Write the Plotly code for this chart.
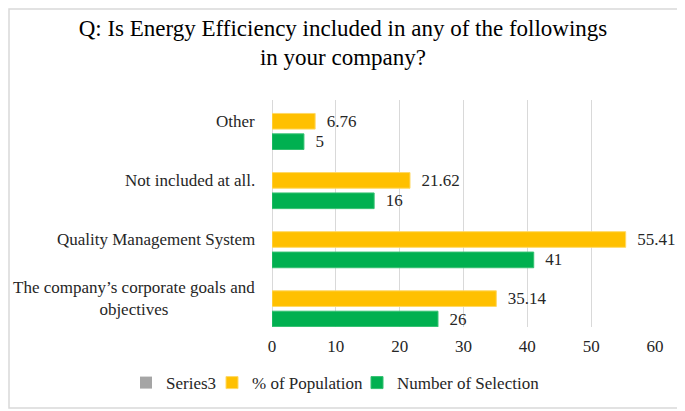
import plotly.graph_objects as go

categories = ["The company\u2019s corporate goals and<br>objectives", "Quality Management System",
              "Not included at all.", "Other"]
pct_population = [35.14, 55.41, 21.62, 6.76]
num_selection = [26, 41, 16, 5]
series3 = [0, 0, 0, 0]
pct_labels = ["35.14", "55.41", "21.62", "6.76"]
num_labels = ["26", "41", "16", "5"]
x_ticks = [0, 10, 20, 30, 40, 50, 60]

FONT = "Liberation Serif, Times New Roman, serif"
YELLOW = "#FFC000"
GREEN = "#00B050"
GREY = "#A5A5A5"

ypos = list(range(len(categories)))
W = 0.265

fig = go.Figure()
fig.add_trace(go.Bar(
    y=ypos, x=series3, orientation="h", name="Series3", legend="legend",
    marker=dict(color=GREY, line=dict(width=0)), width=0.01, hoverinfo="skip"))
fig.add_trace(go.Bar(
    y=ypos, x=pct_population, orientation="h", name="% of Population", legend="legend2",
    marker=dict(color=YELLOW, line=dict(color="#FFD966", width=1)),
    width=W, offset=-W / 2,
    text=pct_labels, texttemplate="\u00a0\u00a0%{text}", textposition="outside",
    cliponaxis=False, constraintext="none",
    textfont=dict(family=FONT, size=17, color="#262626")))
fig.add_trace(go.Bar(
    y=ypos, x=num_selection, orientation="h", name="Number of Selection", legend="legend3",
    marker=dict(color=GREEN, line=dict(color="#33C070", width=1)),
    width=W, offset=-0.345 - W / 2,
    text=num_labels, texttemplate="\u00a0\u00a0%{text}", textposition="outside",
    cliponaxis=False, constraintext="none",
    textfont=dict(family=FONT, size=17, color="#262626")))

for i, c in enumerate(categories):
    fig.add_annotation(x=-0.039, xref="paper", y=ypos[i], yref="y", text=c,
                       showarrow=False, xanchor="right", yanchor="middle", align="center",
                       font=dict(family=FONT, size=17, color="#262626"))

fig.add_shape(type="rect", xref="paper", yref="paper",
              x0=-0.6867, x1=1.075, y0=-0.357, y1=1.4009,
              line=dict(color="#D9D9D9", width=1.5), fillcolor="rgba(0,0,0,0)", layer="below")

legend_common = dict(orientation="h", xref="container", xanchor="left",
                     y=0.0875, yref="container", yanchor="middle",
                     font=dict(family=FONT, size=17, color="#262626"),
                     itemwidth=30, bgcolor="rgba(0,0,0,0)")

fig.update_layout(
    width=685, height=411,
    margin=dict(l=264, r=38, t=92, b=92, autoexpand=False),
    paper_bgcolor="white", plot_bgcolor="white",
    barmode="overlay",
    title=dict(text="Q: Is Energy Efficiency included in any of the followings<br>in your company?",
               x=0.489, xref="container", xanchor="center", y=0.933, yref="container", yanchor="middle",
               font=dict(family=FONT, size=23, color="#000000")),
    xaxis=dict(range=[0, 60], tickvals=x_ticks, showgrid=True, gridcolor="#D9D9D9", gridwidth=1,
               zeroline=True, zerolinecolor="#D9D9D9", zerolinewidth=1, showline=False, ticks="",
               ticklabelstandoff=7,
               tickfont=dict(family=FONT, size=17, color="#262626")),
    yaxis=dict(range=[-0.48, 3.36], showticklabels=False, showgrid=False, zeroline=False,
               showline=False, ticks=""),
    legend=dict(x=(165 - 47) / 685, **legend_common),
    legend2=dict(x=(251 - 47) / 685, **legend_common),
    legend3=dict(x=(396 - 47) / 685, **legend_common),
    showlegend=True,
)

fig.write_html("out.html")
